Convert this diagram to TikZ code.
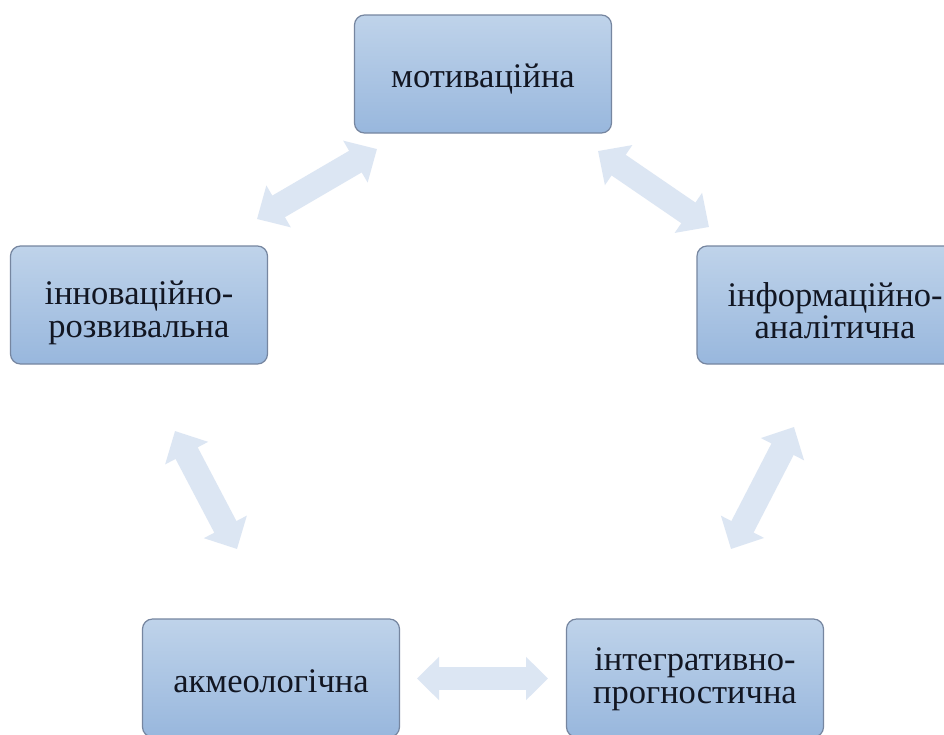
\documentclass[tikz,border=0pt]{standalone}
\usepackage{fontspec}
\setmainfont{Liberation Serif}
\usetikzlibrary{arrows.meta}
\definecolor{boxtop}{RGB}{191,211,234}
\definecolor{boxbot}{RGB}{152,183,221}
\definecolor{boxline}{RGB}{118,134,160}
\definecolor{arrfill}{RGB}{220,230,243}
\definecolor{txt}{RGB}{18,22,34}
\tikzset{
  blk/.style={rectangle, rounded corners=10pt, draw=boxline, line width=1.2pt,
    top color=boxtop, bottom color=boxbot, minimum width=257pt, minimum height=118pt,
    inner sep=0pt},
  lbl/.style={inner sep=0pt, align=center, text=txt,
    font=\fontsize{34.5}{32.5}\selectfont},
  barr/.style={draw=arrfill, line width=25pt,
    {Triangle[length=25pt,width=47pt]}-{Triangle[length=25pt,width=47pt]}},
  harr/.style={draw=arrfill, line width=23pt,
    {Triangle[length=22pt,width=42pt]}-{Triangle[length=22pt,width=42pt]}}
}
\begin{document}
\begin{tikzpicture}[x=1pt,y=-1pt]
\useasboundingbox (0,0) rectangle (944,734);
\clip (0,0) rectangle (944,734);
\fill[white] (0,0) rectangle (944,734);
\node[blk] (mot) at (483,74) {};
\node[blk] (inn) at (139,305) {};
\node[blk, minimum width=276pt] (inf) at (835,305) {};
\node[blk] (akm) at (271,678) {};
\node[blk] (int) at (695,678) {};
\node[lbl] (motT) at ([yshift=-5pt]mot.center) {мотиваційна};
\node[lbl] (innT) at ([yshift=-8pt]inn.center) {інноваційно-\\розвивальна};
\node[lbl] (infT) at ([yshift=-5.5pt]inf.center) {інформаційно-\\аналітична};
\node[lbl] (akmT) at ([yshift=-3pt]akm.center) {акмеологічна};
\node[lbl] (intT) at ([yshift=-1pt]int.center) {інтегративно-\\прогностична};
\coordinate (a1) at (257,219);
\coordinate (a2) at (377,149);
\coordinate (b1) at (598,151);
\coordinate (b2) at (709,227);
\coordinate (c1) at (175,431);
\coordinate (c2) at (237,549);
\coordinate (d1) at (794,427);
\coordinate (d2) at (731,549);
\coordinate (e1) at (417,678.5);
\coordinate (e2) at (548,678.5);
\draw[barr] (a1) -- (a2);
\draw[barr] (b1) -- (b2);
\draw[barr] (c1) -- (c2);
\draw[barr] (d1) -- (d2);
\draw[harr] (e1) -- (e2);
\end{tikzpicture}
\end{document}
